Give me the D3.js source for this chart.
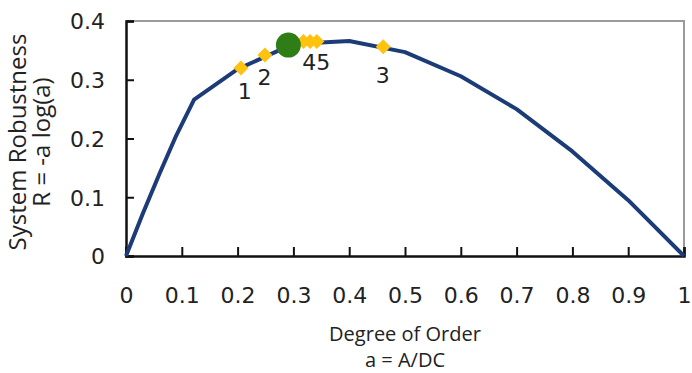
<!DOCTYPE html>
<html>
<head>
<meta charset="utf-8">
<script src="https://cdn.jsdelivr.net/npm/d3@7"></script>
<style>
  body { margin: 0; background: #fff; }
</style>
</head>
<body>
<svg id="drawing_region"></svg>
<script>
// curve R = -a log(a)
const curve_a = [0, 0.03, 0.06, 0.09, 0.122, 0.2, 0.3, 0.4, 0.5, 0.6, 0.7, 0.8, 0.9, 1.0];
const curve_r = [0, 0.072, 0.14, 0.205, 0.266, 0.318, 0.361, 0.366, 0.347, 0.306, 0.25, 0.178, 0.095, 0];

// yellow diamonds
const diamond_a = [0.206, 0.249, 0.318, 0.330, 0.342, 0.461];
const diamond_r = [0.320, 0.342, 0.365, 0.365, 0.365, 0.356];

// green dot
const dot_a = [0.291];
const dot_r = [0.359];

// labels next to the diamonds
const label_text = ["1", "2", "45", "3"];
const label_a = [0.213, 0.248, 0.341, 0.460];
const label_r = [0.280, 0.304, 0.330, 0.308];

const x_ticks = [0, 0.1, 0.2, 0.3, 0.4, 0.5, 0.6, 0.7, 0.8, 0.9, 1];
const y_ticks = [0, 0.1, 0.2, 0.3, 0.4];

class RobustnessChart {
    constructor( config ){
        this.config = {
            parent: config.parent,
            width: config.width || 692,
            height: config.height || 373,
            margin: config.margin || {top:21, right:8, bottom:117, left:126}
        }
        this.init();
    }

    init(){
        let self = this;

        self.svg = d3.select( self.config.parent )
                     .attr('width', self.config.width)
                     .attr('height', self.config.height);

        self.inner_width = self.config.width - self.config.margin.left - self.config.margin.right;
        self.inner_height = self.config.height - self.config.margin.top - self.config.margin.bottom;

        self.chart = self.svg.append('g')
                         .attr('transform', `translate(${self.config.margin.left}, ${self.config.margin.top})`);

        self.xscale = d3.scaleLinear()
                        .domain([0, 1])
                        .range([0, self.inner_width]);

        self.yscale = d3.scaleLinear()
                        .domain([0, 0.4])
                        .range([self.inner_height, 0]);

        self.line = d3.line()
                      .x( d => self.xscale(d[0]) )
                      .y( d => self.yscale(d[1]) );
    }

    render(){
        let self = this;
        const W = self.inner_width, H = self.inner_height;

        // grey frame on top and right
        self.chart.append('path')
                  .attr('d', `M0,0H${W}V${H}`)
                  .attr('fill', 'none')
                  .attr('stroke', '#9a9a9a')
                  .attr('stroke-width', 2);

        const xaxis = self.chart.append('g')
            .attr('transform', `translate(0, ${H})`)
            .call( d3.axisBottom(self.xscale).tickValues(x_ticks).tickSize(-9).tickPadding(31).tickFormat(d3.format('')) );

        const yaxis = self.chart.append('g')
            .call( d3.axisLeft(self.yscale).tickValues(y_ticks).tickSize(-8).tickPadding(21).tickFormat(d3.format('')) );

        [xaxis, yaxis].forEach( ax => {
            ax.select('.domain').attr('stroke', '#111').attr('stroke-width', 2.5);
            ax.selectAll('.tick line').attr('stroke', '#111').attr('stroke-width', 2);
            ax.selectAll('.tick text')
              .attr('fill', '#222')
              .style('font-family', 'DejaVu Sans')
              .style('font-size', '22px');
        });
        xaxis.selectAll('.tick text').attr('dy', '0.71em');
        yaxis.selectAll('.tick text').attr('dy', '0.36em');

        const pts = curve_a.map( (a, i) => [a, curve_r[i]] );
        self.chart.append('path')
                  .datum(pts)
                  .attr('d', self.line)
                  .attr('fill', 'none')
                  .attr('stroke', '#1c3c78')
                  .attr('stroke-width', 4)
                  .attr('stroke-linejoin', 'round');

        const diamond = d3.symbol().type(d3.symbolSquare).size(112);
        self.chart.selectAll('.diamond')
                  .data( diamond_a.map( (a, i) => [a, diamond_r[i]] ) )
                  .enter()
                  .append('path')
                  .attr('class', 'diamond')
                  .attr('d', diamond)
                  .attr('transform', d => `translate(${self.xscale(d[0])}, ${self.yscale(d[1])}) rotate(45)`)
                  .attr('fill', '#ffc20e');

        self.chart.selectAll('.dot')
                  .data( dot_a.map( (a, i) => [a, dot_r[i]] ) )
                  .enter()
                  .append('circle')
                  .attr('cx', d => self.xscale(d[0]))
                  .attr('cy', d => self.yscale(d[1]))
                  .attr('r', 12.5)
                  .attr('fill', '#2f7d16');

        self.chart.selectAll('.lbl')
                  .data( label_text )
                  .enter()
                  .append('text')
                  .attr('x', (d, i) => self.xscale(label_a[i]))
                  .attr('y', (d, i) => self.yscale(label_r[i]))
                  .attr('dy', '0.36em')
                  .attr('text-anchor', 'middle')
                  .attr('fill', '#222')
                  .style('font-family', 'DejaVu Sans')
                  .style('font-size', '22px')
                  .text( d => d );

        // axis titles
        const cx = self.config.margin.left + W / 2;
        self.svg.append('text')
                .attr('x', cx).attr('y', 341)
                .attr('text-anchor', 'middle')
                .attr('fill', '#222')
                .style('font-family', 'Open Sans')
                .style('font-size', '20px')
                .text('Degree of Order');
        self.svg.append('text')
                .attr('x', cx).attr('y', 367)
                .attr('text-anchor', 'middle')
                .attr('fill', '#222')
                .style('font-family', 'Open Sans')
                .style('font-size', '20px')
                .text('a = A/DC');

        const ytitle = self.svg.append('g')
                           .attr('transform', 'translate(0, 142) rotate(-90)');
        ytitle.append('text')
              .attr('x', 0).attr('y', 26)
              .attr('text-anchor', 'middle')
              .attr('fill', '#222')
              .style('font-family', 'Open Sans')
              .style('font-size', '24px')
              .text('System Robustness');
        ytitle.append('text')
              .attr('x', 0).attr('y', 50)
              .attr('text-anchor', 'middle')
              .attr('fill', '#222')
              .style('font-family', 'Open Sans')
              .style('font-size', '24px')
              .text('R = -a log(a)');
    }
}

const chart = new RobustnessChart({ parent: '#drawing_region', width: 692, height: 373 });
chart.render();
</script>
</body>
</html>
